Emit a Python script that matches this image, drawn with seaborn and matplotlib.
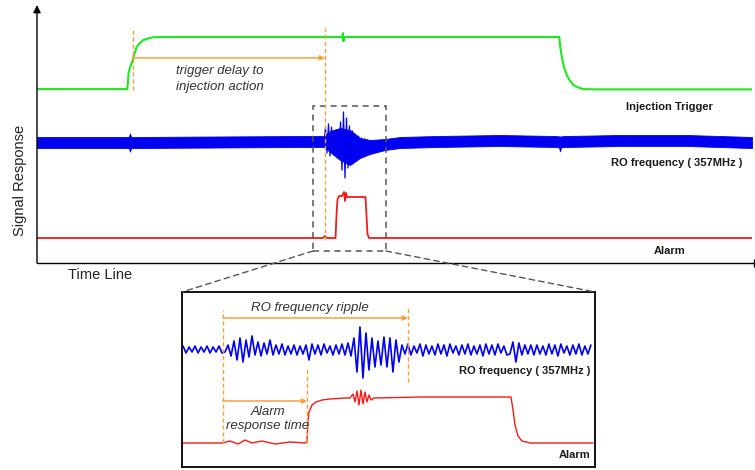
import numpy as np
import matplotlib
matplotlib.use("Agg")
import matplotlib.pyplot as plt
from matplotlib.patches import Rectangle, ConnectionPatch
import seaborn as sns

# ---------------- main view (time 0-100, signal 0-100, a.u.) ----------------
trigger_t = [0, 12.62, 12.72, 12.8, 13.0, 13.24, 13.6, 13.94, 14.4, 14.87, 15.5, 16.27, 18.0,
             42.7, 42.78, 42.86, 42.94, 73.05, 73.15, 73.38, 73.7, 74.08, 74.5, 75.0, 75.7,
             76.4, 78.0, 100]
trigger_s = [67.4, 67.4, 70.0, 73.6, 75.8, 77.4, 80.8, 83.8, 85.3, 86.4, 87.0, 87.5, 87.6,
             87.6, 89.1, 86.0, 87.6, 87.6, 84.5, 80.0, 76.0, 72.9, 70.8, 69.0, 68.0,
             67.4, 67.3, 67.3]

# RO frequency band envelope
ro_env_t = [0, 12.31, 12.85, 13.0, 13.15, 13.71, 36.78, 40.14, 40.98, 42.38, 43.78, 45.17,
            46.57, 48.67, 50.77, 55.94, 64.76, 72.45, 73.0, 73.15, 73.3, 73.85, 81.54,
            90.91, 100]
ro_upper = [48.84, 48.84, 48.9, 50.2, 48.9, 48.84, 49.22, 49.22, 51.16, 52.33, 51.55, 48.45,
            47.67, 48.06, 48.84, 49.22, 49.61, 49.22, 49.1, 49.0, 49.1, 49.22, 49.61,
            49.61, 48.84]
ro_lower = [44.57, 44.57, 44.5, 43.2, 44.5, 44.57, 44.96, 44.96, 43.02, 39.92, 37.98, 40.70,
            42.25, 43.80, 44.57, 44.96, 45.35, 44.96, 44.8, 43.3, 44.8, 44.96, 45.35,
            45.35, 44.57]

# RO frequency disturbance after injection
ro_burst_t0, ro_burst_t1 = 40.14, 46.85
ro_burst = [47.29, 52.33, 42.64, 53.88, 41.47, 52.71, 43.41, 50.39, 43.80, 51.55, 40.70,
            54.65, 36.05, 58.53, 32.95, 56.20, 36.82, 53.10, 38.76, 51.16, 39.92, 49.92,
            41.09, 49.22, 41.86, 48.45, 42.64, 48.06, 43.02, 47.67, 43.80, 47.29, 45.35]

alarm_t = [0, 40.0, 40.28, 40.56, 41.75, 41.89, 42.03, 42.24, 42.66, 42.94, 43.08, 43.22,
           43.36, 43.64, 45.94, 46.08, 46.22, 46.43, 100]
alarm_s = [9.69, 9.69, 10.47, 9.69, 9.69, 18.60, 24.81, 25.97, 25.97, 27.52, 24.03, 27.13,
           25.58, 25.58, 25.58, 18.60, 11.24, 9.69, 9.69]

trigger_mark_t = 13.43
injection_mark_t = 40.28
zoom_t = (38.60, 48.81)
zoom_s = (4.65, 60.85)

# ---------------- zoomed view (time 0-100, signal 0-175, a.u.) ----------------
ro_zoom = [121, 114, 120, 115, 121, 114, 120, 115, 121, 114, 120, 115, 121, 114,
           115, 122, 111, 126, 107, 129, 105, 127, 110, 131, 112, 125, 111, 124, 113, 127,
           112, 122, 113, 123, 112, 121, 113, 122, 112, 121, 113, 122, 107,
           123, 113, 122, 112, 123, 114, 121, 112, 122, 113, 123, 112, 124,
           111, 129, 95, 140, 89, 134, 97, 129, 100, 126, 102, 130, 100, 129, 95, 127, 105,
           122, 113, 123, 112, 121, 114, 123, 111, 122, 113, 121, 112, 123, 113, 122, 111,
           123, 114, 121, 112, 122, 113, 123, 112, 121, 113, 122, 111, 123, 113, 122, 112,
           123, 114, 121, 112, 113, 125, 105, 124, 112, 122, 113, 122,
           112, 122, 113, 121, 112, 123, 113, 122, 111, 123, 114, 121, 112, 122, 113, 123,
           112, 121, 113, 122]
ro_zoom_span = (0.25, 99.0)

alarm_zoom_t = [0.24, 9.69, 11.62, 13.56, 15.25, 16.95, 19.37, 22.52, 26.15, 29.78, 30.27,
                30.51, 30.75, 31.48, 32.45, 33.90, 35.84, 39.47, 40.68, 41.40, 41.89, 42.37,
                42.86, 43.34, 43.83, 44.31, 44.79, 45.28, 45.76, 46.49, 57.63, 79.66, 80.15,
                80.63, 81.36, 82.32, 84.26, 99.52]
alarm_zoom_s = [24, 24, 26, 23, 27, 24, 26, 23, 25, 24, 25, 47, 55, 62, 65, 67, 68, 69, 69,
                73, 65, 76, 62, 77, 63, 75, 65, 72, 67, 69, 70, 70, 57, 42, 31, 26, 24, 24]

ripple_start, ripple_end, alarm_response = 9.93, 54.72, 30.27

GREEN = "#1fe61f"
BLUE = "#0000f0"
RED = "#f21a1a"
ORANGE = "#f5a03c"
GRAY = "#555555"
TEXT = "#333333"

sns.set_theme(style="white")
plt.rcParams["font.family"] = ["Liberation Sans", "DejaVu Sans"]
LABEL_KW = dict(fontsize=8, fontweight="bold", color="#1a1a1a")

fig = plt.figure(figsize=(7.55, 4.70), dpi=100)
ax = fig.add_axes([37 / 755, 207 / 470, 715 / 755, 258 / 470])
ax.set_xlim(0, 100)
ax.set_ylim(0, 100)
ax.axis("off")

# axes drawn as arrows
ax.annotate("", xy=(0, 1.0), xytext=(0, 0), xycoords="axes fraction",
            arrowprops=dict(arrowstyle="-|>", color="black", lw=1.0,
                            mutation_scale=11, shrinkA=0, shrinkB=0))
ax.plot([0, 1.003], [0, 0], transform=ax.transAxes, color="black", lw=1.0, clip_on=False)
ax.plot([1.003], [0], transform=ax.transAxes, marker="|", ms=6, mew=1.0,
        color="black", clip_on=False)

# traces
sns.lineplot(x=trigger_t, y=trigger_s, ax=ax, color=GREEN, lw=1.5, sort=False, estimator=None)
ax.fill_between(ro_env_t, ro_lower, ro_upper, color=BLUE, lw=0.6, edgecolor=BLUE)
burst_t = np.linspace(ro_burst_t0, ro_burst_t1, len(ro_burst))
sns.lineplot(x=burst_t, y=ro_burst, ax=ax, color=BLUE, lw=0.9, sort=False, estimator=None)
sns.lineplot(x=alarm_t, y=alarm_s, ax=ax, color=RED, lw=1.3, sort=False, estimator=None)

# timing markers
ax.plot([trigger_mark_t, trigger_mark_t], [67.0, 91.1], color=ORANGE, lw=1.0, ls=(0, (3, 2)))
ax.plot([injection_mark_t, injection_mark_t], [8.9, 91.1], color=ORANGE, lw=1.0, ls=(0, (3, 2)))
ax.annotate("", xy=(injection_mark_t, 79.5), xytext=(trigger_mark_t, 79.5),
            arrowprops=dict(arrowstyle="-|>", color=ORANGE, lw=1.1,
                            mutation_scale=7, shrinkA=0, shrinkB=0))
ax.text(25.6, 71.3, "trigger delay to\ninjection action", ha="center", va="center",
        style="italic", fontsize=9.5, color=TEXT, linespacing=1.35)

ax.text(88.5, 60.5, "Injection Trigger", ha="center", va="center", **LABEL_KW)
ax.text(89.5, 38.8, "RO frequency ( 357MHz )", ha="center", va="center", **LABEL_KW)
ax.text(88.5, 4.65, "Alarm", ha="center", va="center", **LABEL_KW)

ax.add_patch(Rectangle((zoom_t[0], zoom_s[0]), zoom_t[1] - zoom_t[0], zoom_s[1] - zoom_s[0],
                       fill=False, edgecolor=GRAY, lw=1.1, ls=(0, (4, 3))))

fig.text(20 / 755, 1 - 180 / 470, "Signal Response", rotation=90, ha="center", va="center",
         fontsize=10.5, color="#222222")
fig.text(100 / 755, 1 - 275 / 470, "Time Line", ha="center", va="center",
         fontsize=10.5, color="#222222")

# ---------------- zoomed view ----------------
axz = fig.add_axes([182 / 755, 3 / 470, 413 / 755, 175 / 470])
axz.set_xlim(0, 100)
axz.set_ylim(0, 175)
axz.set_xticks([])
axz.set_yticks([])
for sp in axz.spines.values():
    sp.set_color("black")
    sp.set_linewidth(1.3)

zt = np.linspace(ro_zoom_span[0], ro_zoom_span[1], len(ro_zoom))
sns.lineplot(x=zt, y=ro_zoom, ax=axz, color=BLUE, lw=1.2, sort=False, estimator=None)
sns.lineplot(x=alarm_zoom_t, y=alarm_zoom_s, ax=axz, color=RED, lw=1.0, sort=False,
             estimator=None)

axz.plot([ripple_start, ripple_start], [24, 157], color=ORANGE, lw=1.0, ls=(0, (3, 2)))
axz.plot([ripple_end, ripple_end], [85, 160], color=ORANGE, lw=1.0, ls=(0, (3, 2)))
axz.plot([alarm_response, alarm_response], [24, 99], color=ORANGE, lw=1.0, ls=(0, (3, 2)))
axz.annotate("", xy=(ripple_end, 149), xytext=(ripple_start, 149),
             arrowprops=dict(arrowstyle="-|>", color=ORANGE, lw=1.1,
                             mutation_scale=7, shrinkA=0, shrinkB=0))
axz.annotate("", xy=(alarm_response, 66), xytext=(ripple_start, 66),
             arrowprops=dict(arrowstyle="-|>", color=ORANGE, lw=1.1,
                             mutation_scale=7, shrinkA=0, shrinkB=0))
axz.text(31.0, 159, "RO frequency ripple", ha="center", va="center", style="italic",
         fontsize=9.5, color=TEXT)
axz.text(20.8, 48, "Alarm\nresponse time", ha="center", va="center", style="italic",
         fontsize=9.5, color=TEXT, linespacing=1.25)
axz.text(98.8, 96, "RO frequency ( 357MHz )", ha="right", va="center", **LABEL_KW)
axz.text(98.8, 12, "Alarm", ha="right", va="center", **LABEL_KW)

# connectors from the dashed window to the zoomed view
for tx, fx in ((zoom_t[0], 0.0), (zoom_t[1], 1.0)):
    con = ConnectionPatch(xyA=(tx, zoom_s[0]), coordsA=ax.transData,
                          xyB=(fx, 1.0), coordsB=axz.transAxes,
                          color=GRAY, lw=1.0, ls=(0, (4, 3)))
    fig.add_artist(con)

fig.savefig("out.png", dpi=100)
